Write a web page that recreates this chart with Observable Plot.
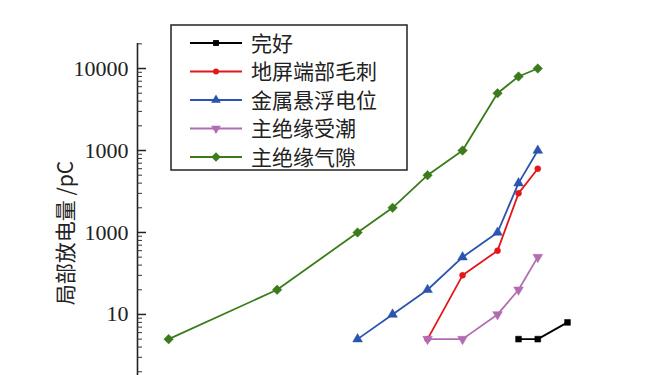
<!DOCTYPE html>
<html><head><meta charset="utf-8">
<script src="https://cdn.jsdelivr.net/npm/d3@7"></script>
<script src="https://cdn.jsdelivr.net/npm/@observablehq/plot@0.6"></script>
<style>
body{margin:0;background:#fff;}
#chart{position:relative;width:666px;height:375px;overflow:hidden;}
</style></head>
<body><div id="chart"></div>
<script>
// ---- data ----
const seriesNames = ["完好", "地屏端部毛刺", "金属悬浮电位", "主绝缘受潮", "主绝缘气隙"];
const xIntact = [10.6, 11.15, 12];
const yIntact = [5, 5, 8];
const xBurr = [8, 9, 10, 10.6, 11.15];
const yBurr = [5, 30, 60, 300, 600];
const xFloat = [6, 7, 8, 9, 10, 10.6, 11.15];
const yFloat = [5, 10, 20, 50, 100, 400, 1000];
const xDamp = [8, 9, 10, 10.6, 11.15];
const yDamp = [5, 5, 10, 20, 50];
const xVoid = [0.6, 3.7, 6, 7, 8, 9, 10, 10.6, 11.15];
const yVoid = [5, 20, 100, 200, 500, 1000, 5000, 8000, 10000];
const yTickValues = [10, 100, 1000, 10000];
const yTickLabels = ["10", "1000", "1000", "10000"];
const yLabel = "局部放电量 /pC";

// ---- styling ----
const colors = ["#000000", "#e3161c", "#2a54ad", "#b26db2", "#3b7b1c"];
const sqrt3 = Math.sqrt(3);
const triangleDown = {draw(context, size) {
  const y = Math.sqrt(size / (sqrt3 * 3));
  context.moveTo(0, y * 2);
  context.lineTo(-sqrt3 * y, -y);
  context.lineTo(sqrt3 * y, -y);
  context.closePath();
}};
const diamondSq = {draw(context, size) {
  const r = Math.sqrt(size / 2);
  context.moveTo(0, -r);
  context.lineTo(r, 0);
  context.lineTo(0, r);
  context.lineTo(-r, 0);
  context.closePath();
}};
const symbols = [d3.symbolSquare, d3.symbolCircle, d3.symbolTriangle, triangleDown, diamondSq];
const radii = [3.3, 3.0, 3.6, 3.6, 3.8];

const xsAll = [xIntact, xBurr, xFloat, xDamp, xVoid];
const ysAll = [yIntact, yBurr, yFloat, yDamp, yVoid];
const series = seriesNames.map((name, i) => xsAll[i].map((x, j) => ({name, x, y: ysAll[i][j]})));

const W = 666, H = 375, mL = 137, mR = 64, mT = 43, mB = 0;
const plotW = W - mL - mR;
const xDomain = [-0.29, 13];
const yDomain = [1.8, 20200];

const minor = [];
for (let e = 0; e <= 4; e++) for (let m = 2; m <= 9; m++) {
  const v = m * Math.pow(10, e);
  if (v >= yDomain[0] && v <= yDomain[1]) minor.push(v);
}

const marks = [
  Plot.ruleX([xDomain[0]], {stroke: "#222", strokeWidth: 1.6}),
  Plot.tickY(yTickValues, {y: d => d, insetRight: plotW - 9, stroke: "#222", strokeWidth: 1.5}),
  Plot.tickY(minor, {y: d => d, insetRight: plotW - 5, stroke: "#333", strokeWidth: 1}),
  Plot.axisY({ticks: yTickValues, tickSize: 0, tickPadding: 9,
    tickFormat: d => yTickLabels[yTickValues.indexOf(d)],
    fontSize: 22, fontFamily: "Liberation Serif", fill: "#222", label: null})
];
series.forEach((data, i) => {
  marks.push(Plot.line(data, {x: "x", y: "y", stroke: colors[i], strokeWidth: 1.8}));
  marks.push(Plot.dot(data, {x: "x", y: "y", fill: colors[i], stroke: colors[i], strokeWidth: 0.5, symbol: symbols[i], r: radii[i]}));
});

const plot = Plot.plot({
  width: W, height: H,
  marginLeft: mL, marginRight: mR, marginTop: mT, marginBottom: mB,
  style: {fontFamily: "'Noto Sans CJK SC', sans-serif", fontSize: "20px", color: "#222", background: "#fff", overflow: "visible"},
  x: {type: "linear", domain: xDomain, axis: null},
  y: {type: "log", domain: yDomain, axis: null},
  marks
});
document.getElementById("chart").appendChild(plot);

const svg = d3.select(plot);
// ---- y axis title ----
svg.append("text").attr("transform", "translate(65,233) rotate(-90)")
  .attr("text-anchor", "middle").attr("dy", "0.36em")
  .attr("font-family", "'Noto Sans CJK SC', sans-serif").attr("font-size", 21)
  .attr("fill", "#222").text(yLabel);

// ---- legend (inside the plot area) ----
const lg = svg.append("g").attr("class", "legend");
lg.append("rect").attr("x", 171).attr("y", 25).attr("width", 236).attr("height", 145)
  .attr("fill", "#fff").attr("stroke", "#222").attr("stroke-width", 1.5);
seriesNames.forEach((name, i) => {
  const cy = 43 + i * 28.5;
  lg.append("line").attr("x1", 190).attr("x2", 242).attr("y1", cy).attr("y2", cy)
    .attr("stroke", colors[i]).attr("stroke-width", 1.8);
  lg.append("path").attr("transform", `translate(216,${cy})`)
    .attr("d", d3.symbol(symbols[i], Math.PI * radii[i] * radii[i])())
    .attr("fill", colors[i]);
  lg.append("text").attr("x", 251).attr("y", cy).attr("dy", "0.36em")
    .attr("text-anchor", "start")
    .attr("font-family", "'Noto Sans CJK SC', sans-serif").attr("font-size", 21)
    .attr("fill", "#222").text(name);
});
</script></body></html>
